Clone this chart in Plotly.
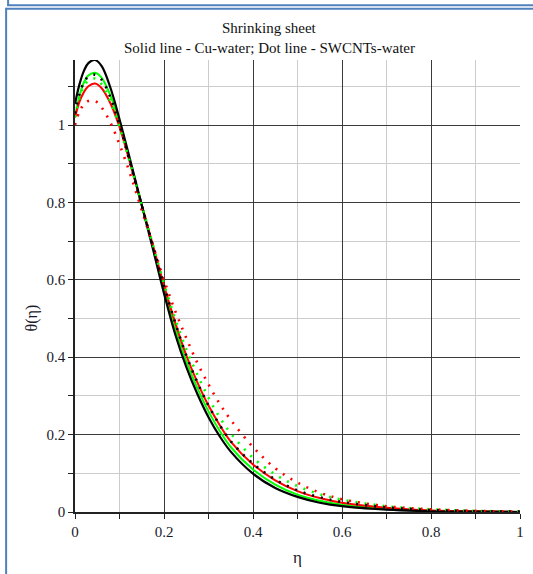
import plotly.graph_objects as go

# ---- data ----
eta = [0, 0.01, 0.02, 0.03, 0.045, 0.06, 0.08, 0.1, 0.125, 0.15, 0.175, 0.2, 0.225,
       0.25, 0.275, 0.3, 0.325, 0.35, 0.4, 0.45, 0.5, 0.55, 0.6, 0.7, 0.8, 0.9, 1.0]

cu_black = [1.055, 1.105, 1.14, 1.16, 1.168, 1.152, 1.095, 1.015, 0.905, 0.793, 0.68, 0.565, 0.46,
            0.375, 0.305, 0.245, 0.196, 0.156, 0.099, 0.062, 0.039, 0.024, 0.015, 0.006, 0.002, 0.001, 0.0]
cu_green = [1.02, 1.075, 1.11, 1.128, 1.135, 1.122, 1.075, 1.005, 0.9, 0.793, 0.685, 0.575, 0.475,
            0.39, 0.32, 0.26, 0.21, 0.168, 0.11, 0.071, 0.045, 0.029, 0.019, 0.008, 0.003, 0.001, 0.0]
cu_red = [1.02, 1.06, 1.085, 1.1, 1.107, 1.095, 1.055, 0.995, 0.897, 0.793, 0.69, 0.585, 0.49,
          0.405, 0.335, 0.275, 0.225, 0.182, 0.123, 0.082, 0.054, 0.036, 0.024, 0.011, 0.004, 0.002, 0.0]

sw_black = [1.03, 1.08, 1.11, 1.125, 1.13, 1.117, 1.07, 1.0, 0.897, 0.792, 0.688, 0.585, 0.49,
            0.405, 0.335, 0.275, 0.225, 0.183, 0.125, 0.084, 0.056, 0.038, 0.026, 0.012, 0.005, 0.002, 0.001]
sw_green = [1.02, 1.07, 1.1, 1.115, 1.12, 1.105, 1.06, 0.995, 0.897, 0.793, 0.69, 0.59, 0.5,
            0.42, 0.355, 0.295, 0.245, 0.203, 0.14, 0.097, 0.067, 0.046, 0.032, 0.015, 0.007, 0.003, 0.001]
sw_red = [1.0, 1.035, 1.053, 1.062, 1.062, 1.045, 1.005, 0.95, 0.87, 0.78, 0.69, 0.6, 0.52,
          0.45, 0.385, 0.33, 0.28, 0.238, 0.168, 0.113, 0.076, 0.05, 0.033, 0.015, 0.007, 0.003, 0.001]

x_ticks = [0, 0.2, 0.4, 0.6, 0.8, 1]
y_ticks = [0, 0.2, 0.4, 0.6, 0.8, 1]

title1 = "Shrinking sheet"
title2 = "Solid line - Cu-water; Dot line - SWCNTs-water"

# ---- figure geometry ----
W, H = 533, 574
ML, MR, MT, MB = 75, 9, 60, 62
PW = W - ML - MR
PH = H - MT - MB


def px(x):
    return (x - ML) / PW


def py(y):
    return (H - MB - y) / PH


FONT = "Liberation Serif, Times New Roman, serif"
BLACK = "#000000"
GREEN = "#00ff00"
RED = "#ff0000"

fig = go.Figure()

solid = [(cu_green, GREEN, 2), (cu_red, RED, 2), (cu_black, BLACK, 2.2)]
dotted = [(sw_green, GREEN, 2.6), (sw_red, RED, 2.6), (sw_black, BLACK, 2.6)]

for ys, c, w in solid:
    fig.add_trace(go.Scatter(x=eta, y=ys, mode="lines", line=dict(color=c, width=w, shape="spline", smoothing=1.0),
                             showlegend=False, hoverinfo="skip"))
for ys, c, w in dotted:
    fig.add_trace(go.Scatter(x=eta, y=ys, mode="lines",
                             line=dict(color=c, width=w, dash="2px,7px", shape="spline", smoothing=1.0),
                             showlegend=False, hoverinfo="skip"))

axis_common = dict(
    showgrid=True, gridcolor="#3a3a3a", gridwidth=1.4,
    zeroline=False, showline=True, linecolor="#222222", linewidth=1.5,
    ticks="outside", ticklen=5, tickcolor="#222222", tickwidth=1,
    tickfont=dict(family=FONT, size=15, color="#1a1a2a"),
)

fig.update_xaxes(range=[0, 1.0], tickvals=x_ticks, ticktext=[str(v) for v in x_ticks],
                 minor=dict(dtick=0.1, tick0=0, showgrid=True, gridcolor="#cccccc", gridwidth=1.4,
                            ticks="outside", ticklen=5, tickcolor="#222222"),
                 **axis_common)
fig.update_yaxes(range=[0, 1.168], tickvals=y_ticks, ticktext=[str(v) for v in y_ticks],
                 minor=dict(dtick=0.1, tick0=0, showgrid=True, gridcolor="#cccccc", gridwidth=1.4,
                            ticks="outside", ticklen=5, tickcolor="#222222"),
                 **axis_common)

annotations = [
    dict(text=title1, x=px(271), y=py(28), xref="paper", yref="paper", showarrow=False,
         xanchor="center", yanchor="middle", font=dict(family=FONT, size=15, color="#111111")),
    dict(text=title2, x=px(271), y=py(48), xref="paper", yref="paper", showarrow=False,
         xanchor="center", yanchor="middle", font=dict(family=FONT, size=15, color="#111111")),
    dict(text="η", x=px(299), y=py(557), xref="paper", yref="paper", showarrow=False,
         xanchor="center", yanchor="middle", font=dict(family=FONT, size=17, color="#1a1a2a")),
    dict(text="θ(η)", x=px(32), y=py(318), xref="paper", yref="paper", showarrow=False, textangle=-90,
         xanchor="center", yanchor="middle", font=dict(family=FONT, size=16, color="#1a1a2a")),
]

BLUE = "#4f81bd"
shapes = [
    # upper box edges
    dict(type="line", xref="paper", yref="paper", x0=px(7.5), x1=px(7.5), y0=py(-2), y1=py(5.5),
         line=dict(color=BLUE, width=2)),
    dict(type="line", xref="paper", yref="paper", x0=px(6.5), x1=px(540), y0=py(5.3), y1=py(5.3),
         line=dict(color=BLUE, width=2)),
    # lower box edges
    dict(type="line", xref="paper", yref="paper", x0=px(5.5), x1=px(540), y0=py(8.7), y1=py(8.7),
         line=dict(color=BLUE, width=2)),
    dict(type="line", xref="paper", yref="paper", x0=px(5.5), x1=px(5.5), y0=py(7.7), y1=py(580),
         line=dict(color=BLUE, width=2)),
]

fig.update_layout(
    width=W, height=H,
    margin=dict(l=ML, r=MR, t=MT, b=MB, pad=0),
    plot_bgcolor="white", paper_bgcolor="white",
    annotations=annotations, shapes=shapes,
    showlegend=False,
)

fig.write_html("out.html", config={"displayModeBar": False},
               post_script="document.body.style.margin='0px';")
